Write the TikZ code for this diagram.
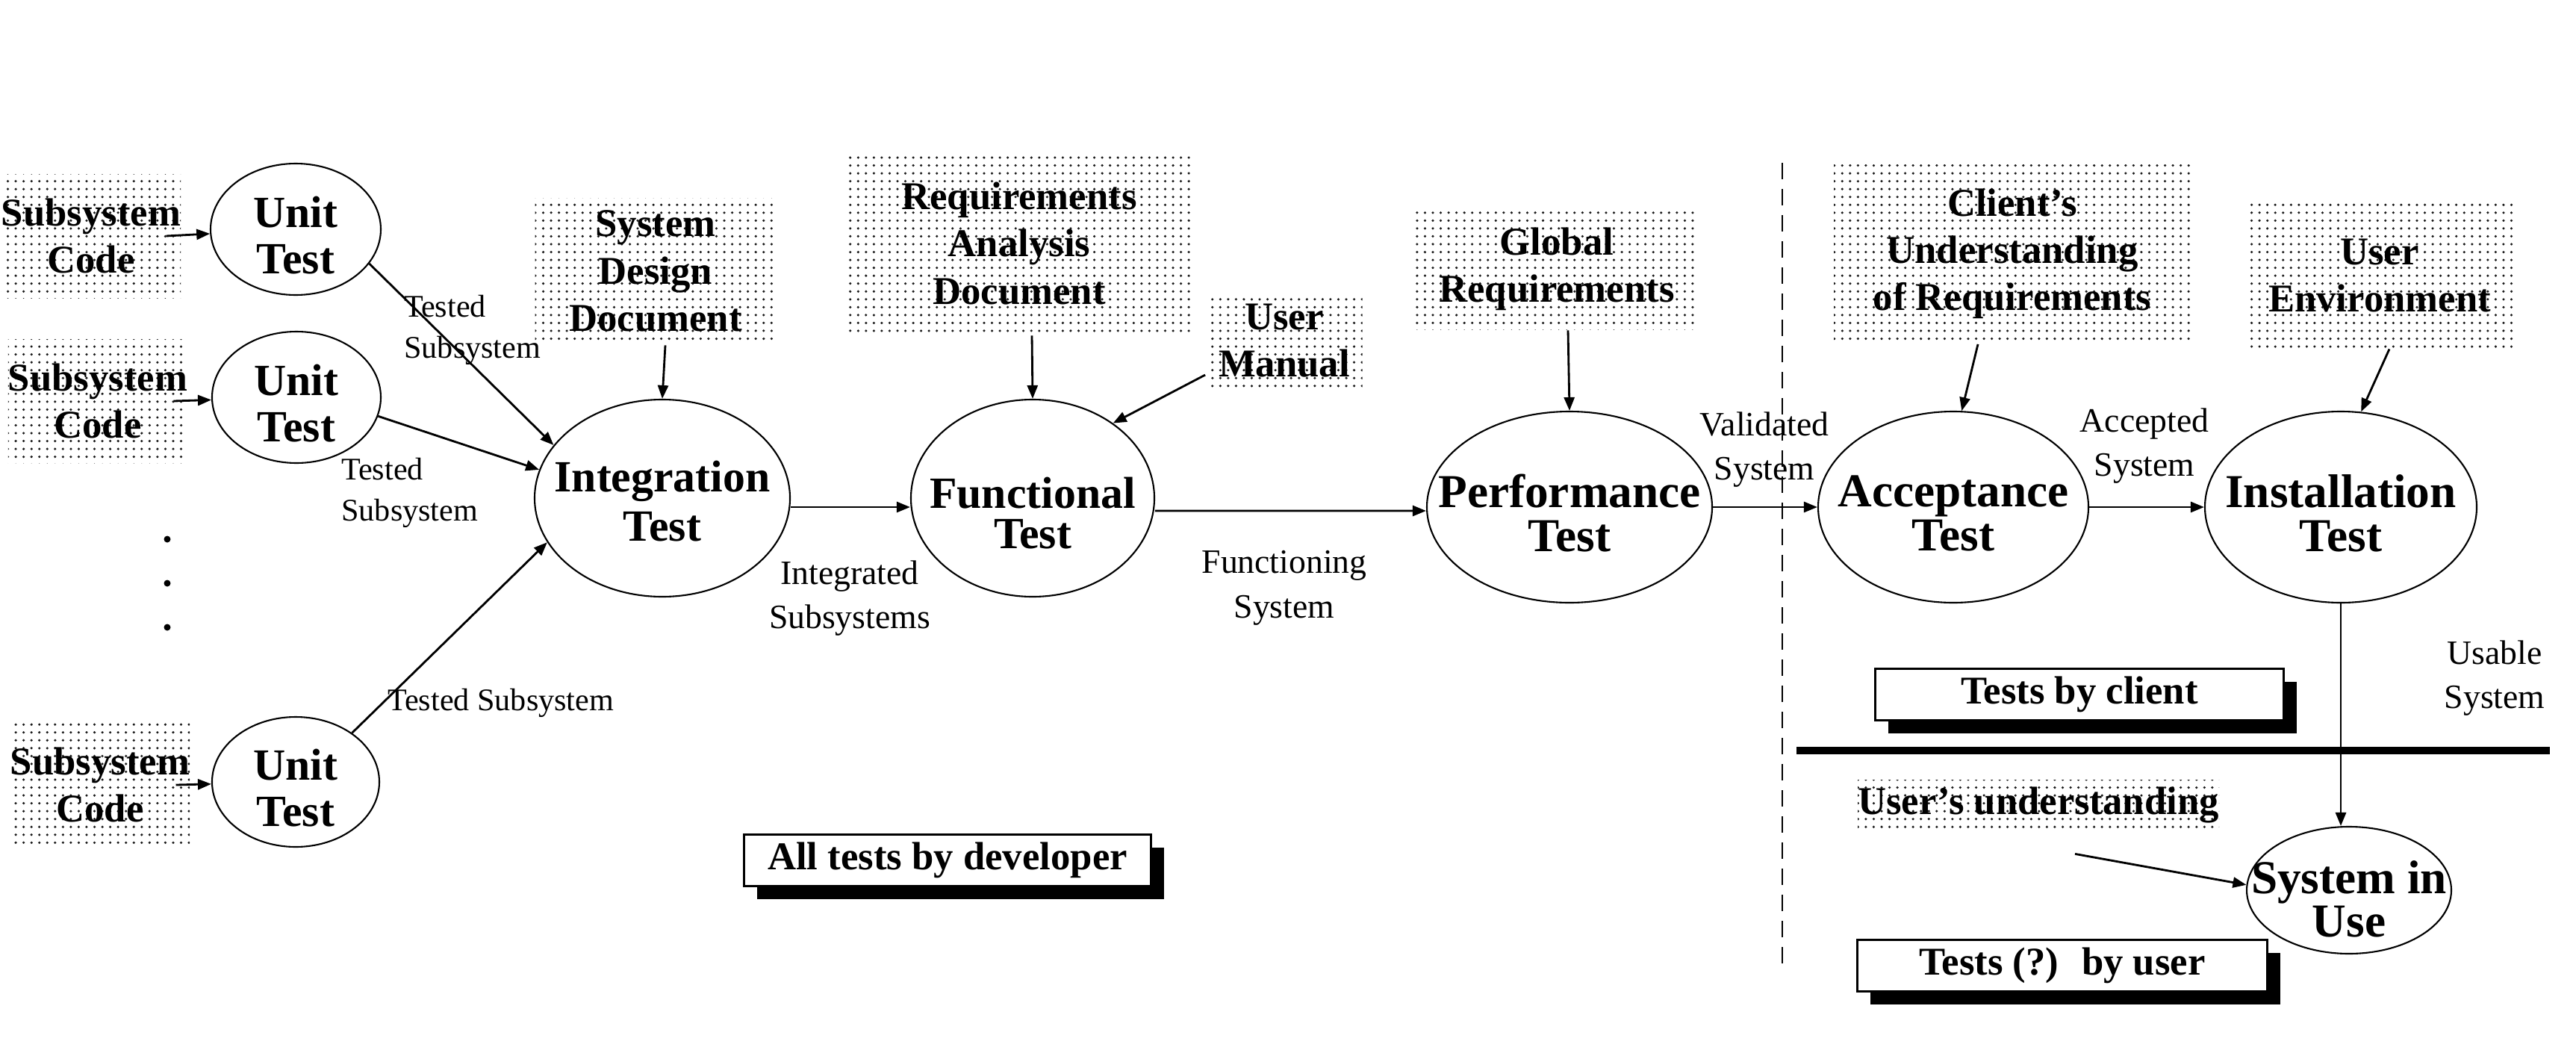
\documentclass[tikz,border=0pt]{standalone}
\usepackage{fontspec}
\setmainfont{Liberation Serif}
\usetikzlibrary{positioning, shapes.geometric, patterns, shadows, arrows.meta}
\tikzset{test node/.style={ellipse, draw, line width=0.6pt, inner sep=0pt},
  test text/.style={inner sep=0pt, align=center, yshift=-0.8mm, font=\bfseries\fontsize{18}{16.8}\selectfont},
  doc node/.style={pattern=dots, pattern color=black!90, inner sep=0pt, align=center, font=\bfseries\fontsize{15}{18}\selectfont},
  tag node/.style={draw, fill=white, line width=0.8pt, inner sep=0pt, minimum height=0.69cm, font=\bfseries\fontsize{15}{18}\selectfont,
    drop shadow={shadow xshift=1.7mm, shadow yshift=-1.7mm, fill=black, opacity=1}},
  flow label/.style={inner sep=0pt, align=center, font=\fontsize{13}{17}\selectfont},
  tested label/.style={inner sep=0pt, anchor=west, align=left, font=\fontsize{12}{15.5}\selectfont},}

\begin{document}
\begin{tikzpicture}[->, >={Triangle[length=1.8mm,width=1.4mm]}, line width=0.8pt]
        \useasboundingbox (0,0) rectangle (34.5,14.13);
        % Inputs
        \node[doc node, minimum width=2.25cm, minimum height=1.66cm] (code1) at (1.22,10.97) {Subsystem\\Code};
        \node[doc node, minimum width=2.22cm, minimum height=1.66cm] (code2) at (1.31,8.76) {Subsystem\\Code};
        \node[doc node, minimum width=2.24cm, minimum height=1.65cm] (code3) at (1.34,3.62) {Subsystem\\Code};
        \node[doc node, minimum width=3.23cm, minimum height=1.96cm] (sdd) at (8.78,10.50) {System\\Design\\Document};
        \node[doc node, minimum width=4.64cm, minimum height=2.44cm] (rad) at (13.65,10.87) {Requirements\\Analysis\\Document};
        \node[doc node, minimum width=2.09cm, minimum height=1.25cm] (manual) at (17.20,9.57) {User\\Manual};
        \node[doc node, minimum width=3.80cm, minimum height=1.62cm] (glob) at (20.85,10.53) {Global\\Requirements};
        \node[doc node, minimum width=4.78cm, minimum height=2.39cm] (client) at (26.95,10.73) {Client’s\\Understanding\\of Requirements};
        \node[doc node, minimum width=3.56cm, minimum height=1.94cm] (env) at (31.87,10.44) {User\\Environment};
        \node[doc node, minimum width=4.84cm, minimum height=0.68cm] (uu) at (27.30,3.35) {User’s understanding};
        \coordinate[below right=3mm and 4.9mm of uu.south] (uufrom);
        % Tests
        \node[test node, minimum width=2.28cm, minimum height=1.76cm, label={[test text, font=\bfseries\fontsize{17}{17.4}\selectfont]center:Unit\\Test}] (unit1) at (3.96,11.06) {};
        \node[test node, minimum width=2.26cm, minimum height=1.76cm, label={[test text, font=\bfseries\fontsize{17}{17.4}\selectfont]center:Unit\\Test}] (unit2) at (3.97,8.81) {};
        \node[test node, minimum width=2.24cm, minimum height=1.74cm, label={[test text, font=\bfseries\fontsize{17}{17.4}\selectfont]center:Unit\\Test}] (unit3) at (3.96,3.66) {};
        \node[test node, minimum width=3.42cm, minimum height=2.64cm, label={[test text, yshift=0.4mm, font=\bfseries\fontsize{17}{19}\selectfont]center:Integration\\Test}] (integ) at (8.87,7.46) {};
        \node[test node, minimum width=3.26cm, minimum height=2.64cm, label={[test text, yshift=-1.2mm, font=\bfseries\fontsize{17}{15.5}\selectfont]center:Functional\\Test}] (func) at (13.83,7.46) {};
        \node[test node, minimum width=3.82cm, minimum height=2.56cm, label={[test text]center:Performance\\Test}] (perf) at (21.02,7.34) {};
        \node[test node, minimum width=3.62cm, minimum height=2.56cm, label={[test text]center:Acceptance\\Test}] (acc) at (26.16,7.34) {};
        \node[test node, minimum width=3.64cm, minimum height=2.56cm, label={[test text]center:Installation\\Test}] (inst) at (31.35,7.34) {};
        \node[test node, minimum width=2.74cm, minimum height=1.70cm, label={[test text, yshift=-0.4mm, font=\bfseries\fontsize{18}{15.5}\selectfont]center:System in\\Use}] (siu) at (31.46,2.21) {};
        % Labels
        \node[tested label] (tested1) at (5.40,9.71) {Tested\\Subsystem};
        \node[tested label] (tested2) at (4.56,7.53) {Tested\\Subsystem};
        \node[tested label] (tested3) at (5.18,4.72) {Tested Subsystem};
        \node[flow label] (integrated) at (11.38,6.12) {Integrated\\Subsystems};
        \node[flow label] (functioning) at (17.20,6.26) {Functioning\\System};
        \node[flow label] (validated) at (23.63,8.11) {Validated\\System};
        \node[flow label] (accepted) at (28.72,8.16) {Accepted\\System};
        \node[flow label] (usable) at (33.41,5.05) {Usable\\System};
        % Who tests
        \node[tag node, minimum width=5.45cm] (devtag) at (12.69,2.61) {All tests by developer};
        \node[tag node, minimum width=5.47cm] (clienttag) at (27.85,4.83) {Tests by client};
        \node[tag node, minimum width=5.49cm] (usertag) at (27.62,1.20) {Tests (?)~ by user};
        % Dividers
        \draw[-, line width=0.5pt, dash pattern=on 2.2mm off 1.3mm] (23.87,11.95) -- (23.87,1.11);
        \draw[-, line width=2.6pt] (24.06,4.08) -- (34.15,4.08);
        \foreach \y in {6.91,6.32,5.73}
            \fill (2.24,\y) circle (0.045);
        % Paths
        \path
        ([xshift=-2.1mm]code1.east) edge (unit1)
        ([xshift=-2mm]code2.east) edge (unit2)
        ([xshift=-2mm]code3.east) edge (unit3)
        (unit1.-25) edge (integ.154)
        (unit2.-13) edge (integ.167)
        (unit3.41) edge (integ.201)
        ([xshift=1.3mm]sdd.south) edge (integ.north)
        ([yshift=-1.2mm]integ.east) edge ([yshift=-1.2mm]func.west)
        ([xshift=1.7mm]rad.south) edge (func.north)
        ([yshift=-4.6mm]manual.west) edge (func.43)
        ([yshift=-1.7mm]func.east) edge ([yshift=-0.5mm]perf.west)
        ([xshift=1.5mm]glob.south) edge (perf.north)
        (perf.east) edge (acc.west)
        ([xshift=-4.6mm]client.south) edge (acc.85)
        (acc.east) edge (inst.west)
        ([xshift=1.3mm]env.south) edge (inst.78)
        (inst.south) edge (inst.south |- siu.north)
        (uufrom) edge (siu.177);
    \end{tikzpicture}
\end{document}
